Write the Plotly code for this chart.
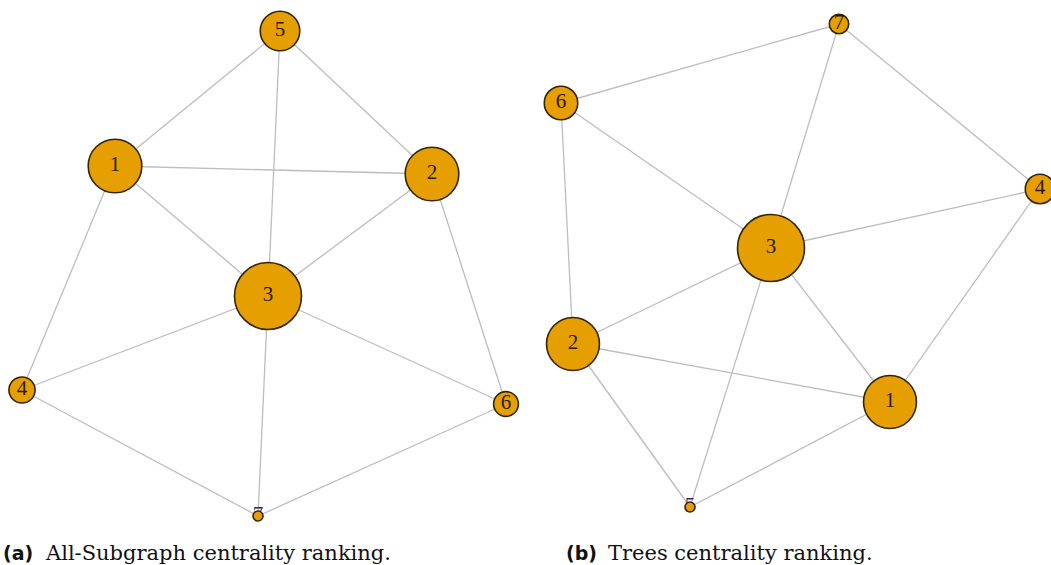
import plotly.graph_objects as go

W, H = 1051, 565

# Panel (a): All-Subgraph centrality ranking
a_nodes = ["1", "2", "3", "4", "5", "6", "7"]
a_x = [115, 432, 268, 22, 280, 506, 258]
a_y = [166, 174, 296, 390, 31, 404, 516]
a_score = [0.80, 0.80, 1.00, 0.39, 0.59, 0.37, 0.15]
a_edges = [("5", "1"), ("5", "2"), ("5", "3"), ("1", "2"), ("1", "3"),
           ("1", "4"), ("2", "3"), ("2", "6"), ("3", "4"), ("3", "6"),
           ("3", "7"), ("4", "7"), ("6", "7")]

# Panel (b): Trees centrality ranking
b_nodes = ["1", "2", "3", "4", "5", "6", "7"]
b_x = [890, 573, 771, 1040, 690, 561, 839]
b_y = [402, 344, 248, 189, 507, 103, 24]
b_score = [0.79, 0.79, 1.00, 0.44, 0.15, 0.50, 0.29]
b_edges = [("7", "6"), ("7", "3"), ("7", "4"), ("6", "3"), ("6", "2"),
           ("3", "4"), ("3", "2"), ("3", "1"), ("3", "5"), ("4", "1"),
           ("2", "1"), ("2", "5"), ("1", "5")]

captions = [("(a)", "All-Subgraph centrality ranking."),
            ("(b)", "Trees centrality ranking.")]

NODE_FILL = "#E69F00"
NODE_EDGE = "#33240a"
EDGE_COLOR = "#bdbdbd"
MAX_DIAM = 67  # diameter of the top-ranked vertex
SMALL = 0.2    # vertices this small get their label tucked underneath

fig = go.Figure()


def add_graph(nodes, xs, ys, score, edges):
    pos = {n: (x, y) for n, x, y in zip(nodes, xs, ys)}
    ex, ey = [], []
    for u, v in edges:
        ex += [pos[u][0], pos[v][0], None]
        ey += [pos[u][1], pos[v][1], None]
    fig.add_trace(go.Scatter(x=ex, y=ey, mode="lines",
                             line=dict(color=EDGE_COLOR, width=1.3),
                             hoverinfo="skip"))
    small = [i for i, s in enumerate(score) if s < SMALL]
    big = [i for i, s in enumerate(score) if s >= SMALL]
    # labels of tiny vertices sit beneath the vertex disc
    fig.add_trace(go.Scatter(
        x=[xs[i] for i in small], y=[ys[i] for i in small],
        text=[nodes[i] for i in small], mode="text",
        textfont=dict(family="Liberation Serif", size=21, color="#2c2a6b"),
        hoverinfo="skip"))
    fig.add_trace(go.Scatter(
        x=xs, y=ys, mode="markers",
        marker=dict(size=[s * MAX_DIAM for s in score], color=NODE_FILL,
                    line=dict(color=NODE_EDGE, width=1.6), opacity=1),
        hovertext=[f"vertex {n}" for n in nodes], hoverinfo="text"))
    fig.add_trace(go.Scatter(
        x=[xs[i] for i in big], y=[ys[i] for i in big],
        text=[nodes[i] for i in big], mode="text",
        textfont=dict(family="Liberation Serif", size=21, color="#2b1a0a"),
        hoverinfo="skip"))


add_graph(a_nodes, a_x, a_y, a_score, a_edges)
add_graph(b_nodes, b_x, b_y, b_score, b_edges)

for (tag, text), x0 in zip(captions, [1, 564]):
    fig.add_annotation(x=x0, y=553, xref="x", yref="y", text=f"<b>{tag}</b>",
                       showarrow=False, xanchor="left", yanchor="middle",
                       font=dict(family="DejaVu Sans", size=19, color="#111111"))
    fig.add_annotation(x=x0 + 42, y=553, xref="x", yref="y", text=text,
                       showarrow=False, xanchor="left", yanchor="middle",
                       font=dict(family="DejaVu Serif", size=21, color="#111111"))

fig.update_layout(
    width=W, height=H, margin=dict(l=0, r=0, t=0, b=0),
    paper_bgcolor="white", plot_bgcolor="white", showlegend=False,
    xaxis=dict(range=[0, W], visible=False, fixedrange=True),
    yaxis=dict(range=[H, 0], visible=False, fixedrange=True),
)

fig.write_html("out.html")
